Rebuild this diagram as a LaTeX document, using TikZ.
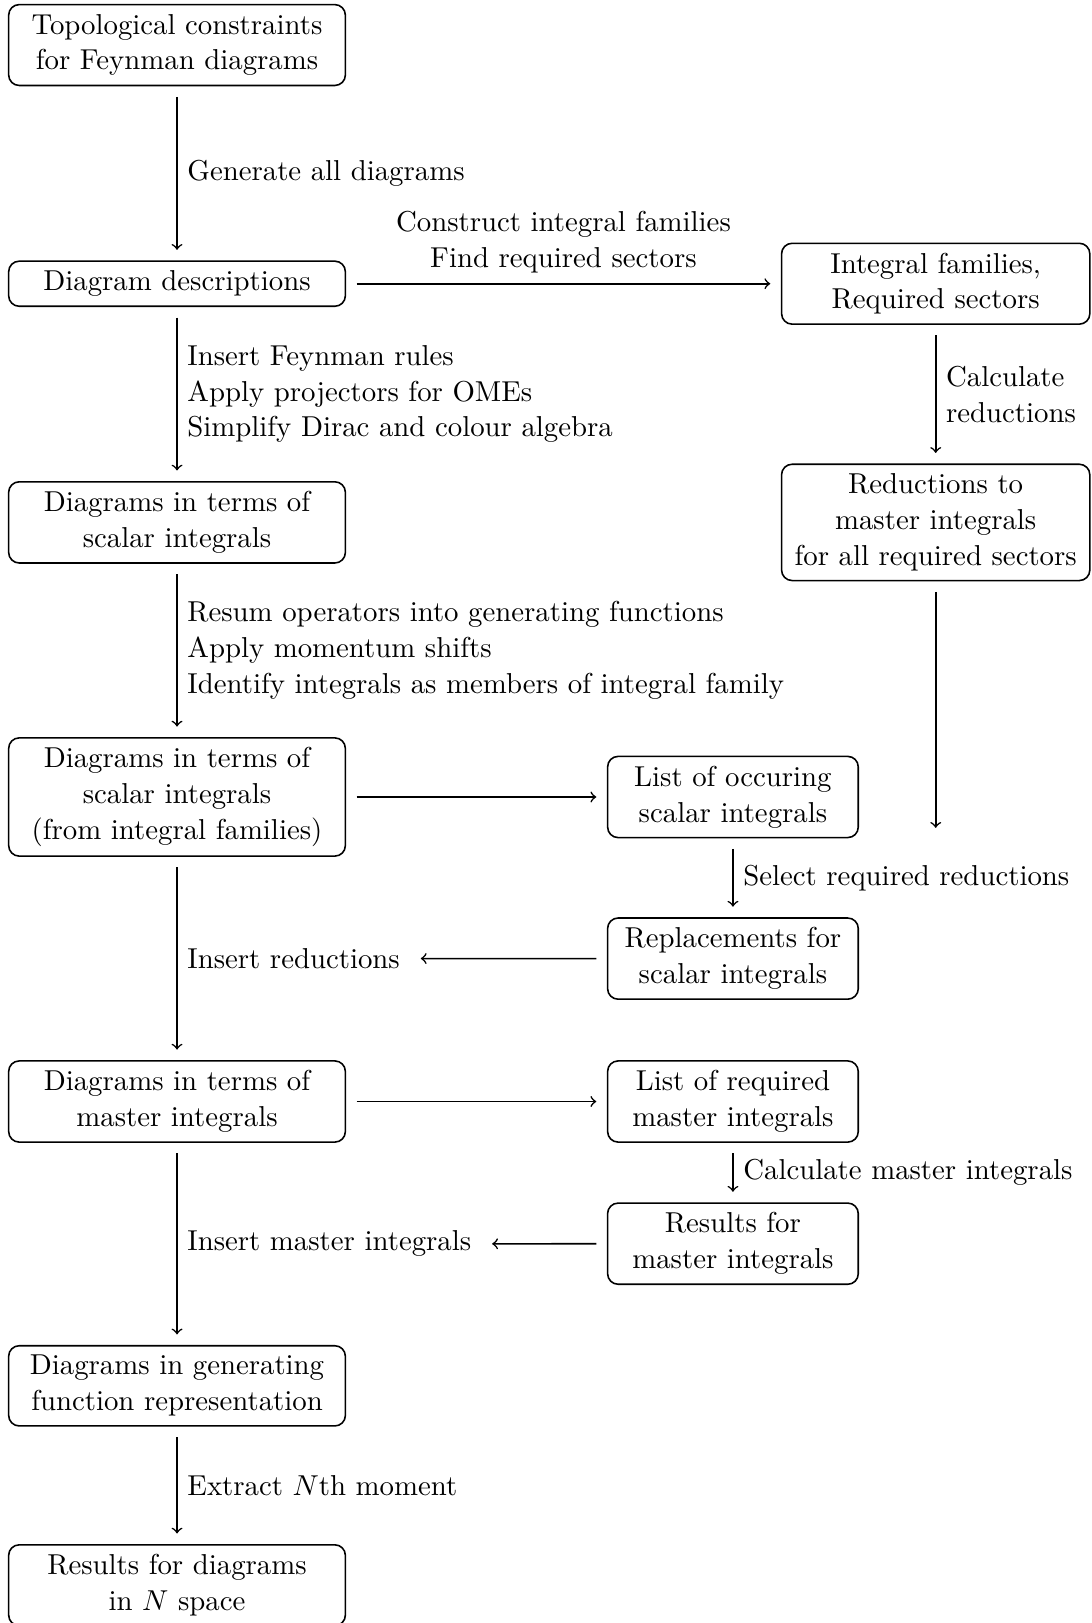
\documentclass[tikz,border=0pt,11pt]{standalone}
\usepackage{xcolor}
\usepackage{tikz}

\begin{document}
\begin{tikzpicture}[semithick,
		box/.style={draw, rounded corners, align=center},
		lbox/.style={box, minimum width=4.5cm},
		rbox/.style={box, minimum width=4.12cm},
		mbox/.style={box, minimum width=3.35cm},
		arr/.style={->, shorten >=4pt, shorten <=4pt}]
				\useasboundingbox (-2.366,0.602) rectangle (12.216,-21.09);
				% left column
				\node[lbox] (topo) at (0,0) {Topological constraints\\for Feynman diagrams};
				\node[lbox] (desc) at (0,-3.19) {Diagram descriptions};
				\node[lbox] (scal) at (0,-6.38) {Diagrams in terms of\\scalar integrals};
				\node[lbox] (fam) at (0,-10.05) {Diagrams in terms of\\scalar integrals\\(from integral families)};
				\node[lbox] (mast) at (0,-14.12) {Diagrams in terms of\\master integrals};
				\node[lbox] (genf) at (0,-17.92) {Diagrams in generating\\function representation};
				\node[lbox] (nsp) at (0,-20.585) {Results for diagrams\\in $N$ space};
				
				% right column
				\node[rbox] (intfam) at (10.14,-3.19) {Integral families,\\Required sectors};
				\node[rbox] (red) at (10.14,-6.38) {Reductions to\\master integrals\\for all required sectors};
				
				% middle column
				\node[mbox] (occ) at (7.43,-10.05) {List of occuring\\scalar integrals};
				\node[mbox] (repl) at (7.43,-12.21) {Replacements for\\scalar integrals};
				\node[mbox] (reqm) at (7.43,-14.12) {List of required\\master integrals};
				\node[mbox] (resm) at (7.43,-16.02) {Results for\\master integrals};
				
				\draw[arr] (topo) -- node[right] {Generate all diagrams} (desc);
				\draw[arr] (desc) -- node[above, align=center] {Construct integral families\\Find required sectors} (intfam);
				\draw[arr] (intfam) -- node[right, align=left] {Calculate\\reductions} (red);
				\draw[arr] (desc) -- node[right, align=left] {Insert Feynman rules\\Apply projectors for OMEs\\Simplify Dirac and colour algebra} (scal);
				\draw[arr] (scal) -- node[right, align=left] {Resum operators into generating functions\\Apply momentum shifts\\Identify integrals as members of integral family} (fam);
				\draw[arr] (fam) -- (occ);
				\coordinate (redend) at (red |- occ.south);
				\draw[arr] (red) -- (redend);
				\draw[arr] (occ) -- node[right] {Select required reductions} (repl);
				\draw[arr] (fam) -- node[right] (insred) {Insert reductions} (mast);
				\draw[arr] (repl) -- (insred);
				\draw[arr] (mast) -- (reqm);
				\draw[arr] (reqm) -- node[right] {Calculate master integrals} (resm);
				\draw[arr] (mast) -- node[right] (insmi) {Insert master integrals} (genf);
				\draw[arr] (resm) -- (insmi);
				\draw[arr] (genf) -- node[right] {Extract $N$th moment} (nsp);
			\end{tikzpicture}
\end{document}
